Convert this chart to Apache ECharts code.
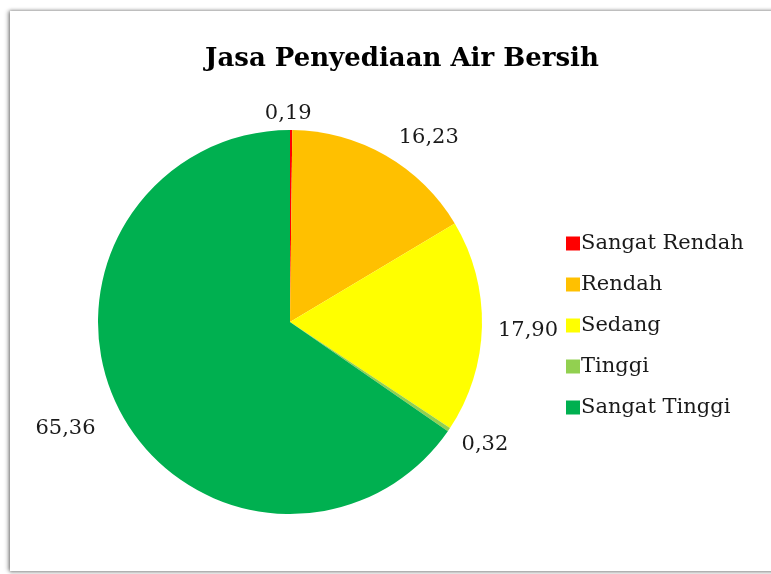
<!DOCTYPE html>
<html>
<head>
<meta charset="utf-8">
<style>
  html, body { margin: 0; padding: 0; background: #fff; }
  .frame {
    position: absolute; left: 10px; top: 11px; width: 780px; height: 560px;
    background: #fff; box-shadow: -2px 0 4px rgba(0,0,0,0.35), 0 -1px 3px rgba(0,0,0,0.2), 0 2px 3px rgba(0,0,0,0.2);
  }
  #chart { position: absolute; left: 0; top: 0; width: 771px; height: 574px; }
</style>
<script src="https://cdn.jsdelivr.net/npm/echarts@6/dist/echarts.min.js"></script>
</head>
<body>
<div class="frame"></div>
<div id="chart"></div>
<script>
// data
var categories = ['Sangat Rendah', 'Rendah', 'Sedang', 'Tinggi', 'Sangat Tinggi']
var values = [0.19, 16.23, 17.90, 0.32, 65.36]
var colors = ['#FF0000', '#FFC000', '#FFFF00', '#92D050', '#00B050']

// small nudges so labels sit where the original put them
var labelShift = [
  { align: 'center', dx: -12, dy: -2 },
  { dx: -3, dy: -6 },
  { dx: -7, dy: 4 },
  { dx: -8, dy: 7 },
  { dx: -3, dy: 11 }
]

var chart = echarts.init(document.getElementById('chart'))

chart.setOption({
  animation: false,
  title: {
    text: 'Jasa Penyediaan Air Bersih',
    left: 397,
    textAlign: 'center',
    top: 41,
    textStyle: {
      fontFamily: 'DejaVu Serif',
      fontWeight: 'bold',
      fontSize: 26,
      color: '#000'
    }
  },
  legend: {
    orient: 'vertical',
    left: 561,
    top: 228,
    itemWidth: 14,
    itemHeight: 14,
    itemGap: 20,
    icon: 'rect',
    textStyle: {
      fontFamily: 'DejaVu Serif',
      fontSize: 21,
      color: '#1a1a1a',
      padding: [0, 0, 0, -4]
    },
    data: categories
  },
  series: [{
    type: 'pie',
    center: [290, 322],
    radius: 192,
    startAngle: 90,
    clockwise: true,
    data: categories.map(function(name, i) {
      return { name: name, value: values[i], itemStyle: { color: colors[i] } }
    }),
    label: {
      show: true,
      position: 'outside',
      fontFamily: 'DejaVu Serif',
      fontSize: 21,
      color: '#1a1a1a',
      formatter: function(p) {
        return p.value.toFixed(2).replace('.', ',')
      }
    },
    labelLine: {
      show: false,
      length: 14,
      length2: 4
    },
    labelLayout: function(params) {
      return labelShift[params.dataIndex]
    },
    itemStyle: { borderWidth: 0 },
    emphasis: { disabled: true }
  }]
})
</script>
</body>
</html>
